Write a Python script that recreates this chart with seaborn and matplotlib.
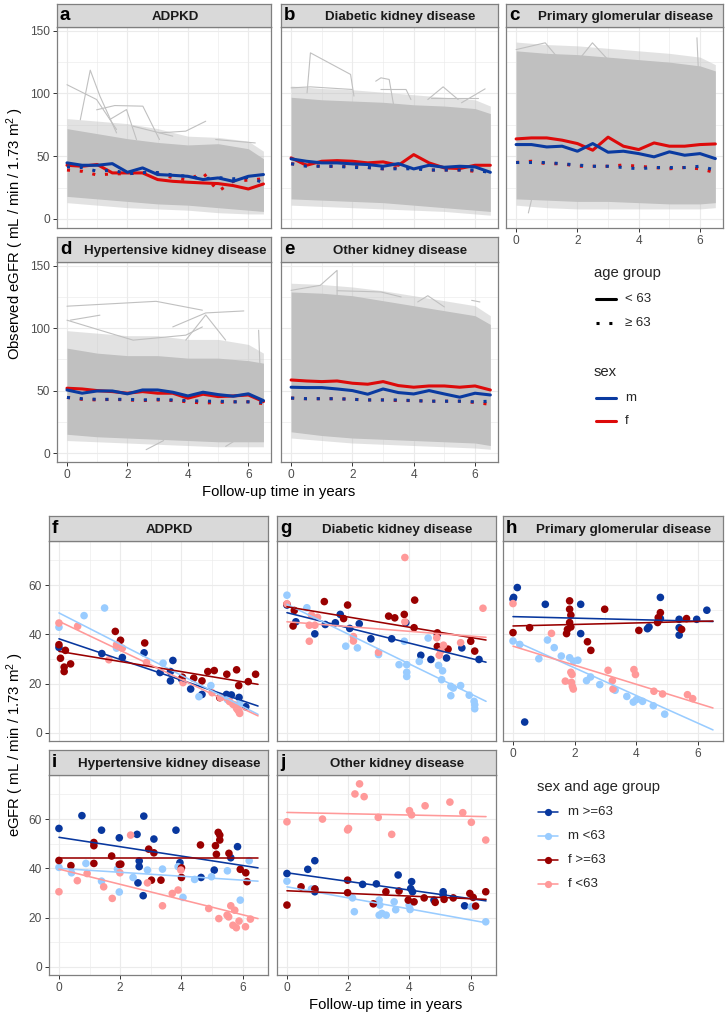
import numpy as np
import pandas as pd
import matplotlib
matplotlib.use("Agg")
import matplotlib.pyplot as plt
import seaborn as sns
from matplotlib.lines import Line2D

sns.set_theme(style="white")
plt.rcParams['font.family'] = ['Liberation Sans', 'DejaVu Sans']
plt.rcParams['mathtext.fontset'] = 'custom'
plt.rcParams['mathtext.rm'] = 'Liberation Sans'
plt.rcParams['mathtext.it'] = 'Liberation Sans:italic'
plt.rcParams['mathtext.bf'] = 'Liberation Sans:bold'

# ------------------------------------------------------------------ data
time_bins = [0.0, 0.5, 1.0, 1.5, 2.0, 2.5, 3.0, 3.5, 4.0, 4.5, 5.0, 5.5, 6.0, 6.5]
diseases = ["ADPKD", "Diabetic kidney disease", "Primary glomerular disease",
            "Hypertensive kidney disease", "Other kidney disease"]
letters_top = ["a", "b", "c", "d", "e"]
letters_bottom = ["f", "g", "h", "i", "j"]

# mean observed eGFR per half-year bin (top panels)
adpkd_m_lt63 = [44.7, 42.8, 42.8, 44.1, 37.2, 40.7, 35.4, 34.8, 34.0, 31.4, 32.7, 30.0, 34.0, 35.4]
adpkd_f_lt63 = [42.8, 42.0, 43.4, 36.7, 36.7, 36.7, 31.4, 30.0, 29.3, 28.7, 28.2, 26.6, 23.9, 27.9]
adpkd_m_ge63 = [41.5, 41.0, 38.0, 39.0, 36.0, 37.0, 37.0, 35.0, 34.0, 32.0, 33.0, 32.0, 33.0, 29.0]
adpkd_f_ge63 = [39.0, 38.0, 35.0, 36.0, 36.0, 37.0, 36.0, 33.0, 31.0, 37.0, 22.0, 30.0, 31.0, 32.0]

dkd_m_lt63 = [47.9, 46.0, 44.7, 44.7, 43.9, 43.4, 42.0, 44.1, 39.9, 42.8, 41.2, 42.0, 41.5, 37.2]
dkd_f_lt63 = [48.7, 42.8, 46.0, 46.5, 46.0, 44.7, 45.5, 42.8, 51.3, 44.7, 40.7, 40.2, 42.8, 42.8]
dkd_m_ge63 = [44.0, 42.0, 42.0, 42.0, 41.0, 41.0, 40.0, 40.0, 40.0, 39.0, 39.0, 39.0, 39.0, 37.0]
dkd_f_ge63 = [44.0, 43.0, 42.0, 42.0, 42.0, 41.0, 40.0, 41.0, 41.0, 39.0, 39.0, 39.0, 38.0, 38.0]

pgd_m_lt63 = [59.3, 59.3, 57.4, 58.0, 54.0, 60.1, 53.2, 54.0, 52.1, 49.5, 53.5, 50.8, 52.1, 48.1]
pgd_f_lt63 = [63.8, 64.6, 64.6, 62.8, 60.1, 54.8, 65.2, 58.0, 55.3, 60.6, 58.0, 58.0, 59.3, 59.8]
pgd_m_ge63 = [45.0, 45.0, 45.0, 44.0, 43.0, 42.0, 42.0, 41.0, 40.0, 41.0, 41.0, 41.0, 42.0, 39.0]
pgd_f_ge63 = [45.0, 46.0, 44.0, 44.0, 42.0, 42.0, 42.0, 43.0, 42.0, 41.0, 40.0, 41.0, 40.0, 37.0]

hkd_m_lt63 = [50.5, 47.9, 49.7, 49.7, 47.4, 50.5, 50.5, 48.7, 45.7, 48.7, 46.8, 45.5, 47.4, 42.0]
hkd_f_lt63 = [51.9, 51.3, 50.0, 49.2, 47.9, 49.2, 47.9, 47.9, 43.9, 47.1, 45.2, 45.7, 46.5, 41.2]
hkd_m_ge63 = [44.5, 43.5, 43.0, 43.0, 43.0, 42.5, 43.0, 42.5, 42.0, 41.5, 41.5, 41.0, 41.0, 40.5]
hkd_f_ge63 = [44.5, 43.0, 42.5, 43.0, 42.5, 42.0, 42.5, 42.0, 41.0, 40.0, 40.5, 41.0, 41.0, 39.5]

okd_m_lt63 = [52.7, 52.4, 52.4, 51.3, 50.0, 47.1, 51.3, 48.4, 47.3, 50.0, 47.3, 44.7, 47.9, 46.5]
okd_f_lt63 = [58.5, 57.7, 57.2, 57.7, 55.9, 55.1, 57.2, 54.0, 52.7, 53.7, 53.7, 52.7, 53.7, 50.5]
okd_m_ge63 = [44.0, 43.5, 43.5, 43.5, 43.0, 42.5, 42.5, 42.5, 42.0, 41.5, 41.5, 41.5, 41.0, 41.5]
okd_f_ge63 = [44.0, 43.5, 43.5, 43.5, 43.0, 42.5, 42.5, 42.0, 42.0, 41.5, 41.5, 41.5, 40.5, 39.0]

# envelope of the individual trajectories: dense core and sparser fringe
band_x = [0, 1, 2, 3, 4, 5, 6, 6.5]
adpkd_band_hi = [72, 68, 64, 61, 59, 60, 56, 48]
adpkd_band_lo = [18, 16, 14, 12, 11, 9, 7, 6]
adpkd_fringe_hi = [80, 78, 76, 72, 66, 65, 62, 54]
adpkd_fringe_lo = [13, 11, 9, 8, 7, 5, 4, 4]
dkd_band_hi = [97, 95, 94, 93, 91, 90, 88, 84]
dkd_band_lo = [16, 15, 14, 13, 11, 9, 7, 6]
dkd_fringe_hi = [106, 104, 103, 101, 99, 97, 95, 90]
dkd_fringe_lo = [11, 10, 9, 8, 7, 6, 4, 3]
pgd_band_hi = [134, 132, 131, 129, 127, 125, 122, 118]
pgd_band_lo = [16, 15, 14, 14, 13, 12, 12, 13]
pgd_fringe_hi = [141, 139, 138, 136, 134, 132, 129, 123]
pgd_fringe_lo = [11, 9, 8, 8, 8, 8, 8, 9]
hkd_band_hi = [84, 80, 78, 78, 76, 76, 74, 72]
hkd_band_lo = [15, 13, 12, 11, 10, 9, 9, 9]
hkd_fringe_hi = [98, 96, 94, 94, 91, 91, 87, 80]
hkd_fringe_lo = [10, 9, 8, 7, 6, 5, 5, 5]
okd_band_hi = [129, 128, 126, 122, 118, 114, 110, 103]
okd_band_lo = [17, 14, 12, 11, 10, 9, 8, 6]
okd_fringe_hi = [136, 135, 133, 130, 126, 122, 118, 110]
okd_fringe_lo = [12, 10, 8, 7, 6, 5, 4, 3]

# individual trajectories sticking out of the dense area
adpkd_outliers = [
    [(0, 107), (0.98, 95.2), (1.64, 71.3)],
    [(0.44, 79), (0.77, 118.6), (1.09, 97.9), (1.64, 68.6)],
    [(0.98, 87), (1.58, 90.4), (2.51, 89.9), (3.06, 63.3)],
    [(1.42, 79.3), (1.97, 87.2), (2.3, 63.3)],
    [(3.06, 68.6), (3.93, 70), (4.59, 77.9)],
    [(2.19, 73.9), (3.5, 66)],
    [(4.92, 63.3), (6.23, 60.6)],
]
dkd_outliers = [
    [(0, 104.5), (0.63, 105.3), (2.0, 103.2)],
    [(0.52, 100.5), (0.63, 132.4), (1.94, 115.2), (2.05, 97.9)],
    [(2.76, 109.8), (2.93, 112.5), (3.2, 111.2), (3.37, 87)],
    [(2.93, 103.2), (3.75, 103.2), (3.91, 95.2)],
    [(4.46, 95.2), (4.96, 105.3), (5.45, 95.2)],
    [(5.56, 92.6), (6.33, 103.7)],
    [(4.57, 96.5), (6.1, 96.5)],
]
pgd_outliers = [
    [(0, 135), (0.95, 140.4), (1.5, 124.5)],
    [(2.05, 127), (2.49, 140.4), (3.04, 125.8)],
    [(5.9, 144.4), (5.95, 116.5)],
    [(0.4, 4.8), (0.5, 15)],
]
hkd_outliers = [
    [(0, 117.6), (2.95, 121.5), (4.48, 114.4)],
    [(0.11, 106.4), (1.09, 110.4)],
    [(0, 106.4), (1.09, 98.4), (2.19, 90.4), (3.93, 94.4), (4.48, 101)],
    [(3.5, 101), (4.59, 112.2), (5.85, 113.8)],
    [(3.93, 90.4), (4.59, 110.6), (5.25, 90.4)],
    [(6.34, 98.4), (6.45, 26.6)],
    [(2.62, 2.7), (3.2, 10)],
    [(5.25, 5.3), (5.7, 12)],
]
okd_outliers = [
    [(0, 130.3), (0.95, 134.3), (1.5, 146.3), (1.5, 125)],
    [(1.5, 130), (2.93, 129), (3.59, 125)],
    [(5.89, 122.3), (6.16, 121)],
    [(4.13, 121), (4.46, 126), (5.0, 117)],
]

# bottom panels: example patients, (years, eGFR) per group
groups = ["m >=63", "m <63", "f >=63", "f <63"]

adpkd_pts_m_ge63 = [(0, 34.7), (1.40, 32.2), (2.07, 30.6), (2.78, 32.5), (3.30, 24.5), (3.64, 24.9),
                    (3.64, 21.1), (3.72, 29.4), (4.0, 21.9), (4.3, 17.8), (4.67, 15.6), (5.47, 15.6),
                    (5.63, 15.4), (5.88, 14.4), (6.1, 10.6)]
adpkd_pts_m_lt63 = [(0, 42.9), (0.82, 47.6), (1.49, 50.7), (1.88, 34.4), (3.40, 28.3), (4.57, 14.7),
                    (4.96, 19.2), (5.5, 13.5), (5.9, 12.0)]
adpkd_pts_f_ge63 = [(0, 35.8), (0.05, 30.3), (0.21, 33.5), (0.17, 26.7), (0.17, 24.9), (0.38, 28.0),
                    (1.84, 41.2), (2.01, 37.6), (2.8, 36.5), (4.03, 22.6), (4.4, 22.2), (4.67, 21.1),
                    (4.86, 24.9), (5.07, 25.3), (5.48, 23.8), (5.8, 25.6), (5.87, 19.2), (5.25, 14.3),
                    (6.18, 20.8), (6.42, 23.8)]
adpkd_pts_f_lt63 = [(0, 44.6), (0.61, 43.3), (1.63, 29.7), (1.88, 35.8), (2.07, 34.4), (2.86, 28.6),
                    (4.05, 20.4), (5.0, 16.3), (5.27, 14.3), (5.68, 11.6), (5.8, 9.9), (5.88, 8.6),
                    (5.9, 7.9), (5.73, 11.3), (5.57, 12.7), (5.84, 9.3)]

dkd_pts_m_ge63 = [(0, 51.9), (0.29, 45.1), (0.91, 40.2), (1.25, 44.0), (1.58, 44.7), (1.74, 48.1),
                  (2.05, 42.4), (2.36, 44.3), (2.74, 38.2), (3.42, 38.2), (3.88, 44.7), (4.37, 31.5),
                  (4.70, 29.8), (4.91, 40.0), (5.21, 30.4), (5.71, 34.5), (6.27, 29.8)]
dkd_pts_m_lt63 = [(0, 55.9), (0.65, 50.8), (1.92, 35.2), (2.30, 34.5), (2.99, 31.8), (3.83, 37.2),
                  (3.66, 27.7), (3.91, 27.7), (3.91, 24.6), (3.91, 22.9), (4.32, 29.0), (4.61, 38.5),
                  (4.95, 27.4), (5.08, 25.2), (5.05, 21.6), (5.35, 18.9), (5.43, 18.2), (5.35, 15.1),
                  (5.67, 19.2), (5.95, 15.3), (6.11, 12.8), (6.13, 11.4), (6.13, 9.8)]
dkd_pts_f_ge63 = [(0, 52.2), (0.24, 49.7), (0.2, 43.4), (1.22, 53.3), (1.85, 46.4), (1.98, 51.9),
                  (3.32, 47.4), (3.52, 46.7), (3.83, 48.1), (4.17, 53.9), (4.15, 42.7), (4.91, 40.6),
                  (4.91, 35.1), (5.26, 34.0), (6.0, 37.2), (6.13, 33.2)]
dkd_pts_f_lt63 = [(0, 52.4), (0.73, 37.2), (0.73, 43.7), (0.8, 47.8), (0.91, 43.7), (1.0, 46.9),
                  (2.17, 39.1), (2.17, 37.3), (2.99, 32.7), (3.85, 71.2), (3.85, 45.1), (4.89, 38.6),
                  (4.97, 31.5), (5.11, 35.6), (5.02, 33.2), (5.67, 36.6), (6.40, 50.6)]

pgd_pts_m_ge63 = [(0, 54.3), (0.02, 55.0), (0.14, 59.0), (0.38, 4.4), (1.05, 52.2), (2.2, 52.2),
                  (2.2, 40.3), (4.37, 42.3), (4.42, 43.0), (4.79, 55.0), (4.79, 46.4), (5.40, 46.1),
                  (5.40, 42.7), (5.40, 39.7), (5.97, 46.1), (6.30, 49.8)]
pgd_pts_m_lt63 = [(0, 37.3), (0.22, 35.9), (0.84, 30.1), (1.12, 37.7), (1.34, 34.6), (1.57, 31.2),
                  (1.84, 30.5), (1.97, 29.1), (2.11, 29.5), (2.39, 21.2), (2.52, 22.7), (2.82, 19.6),
                  (3.32, 17.3), (3.7, 14.8), (3.91, 12.5), (4.01, 13.5), (4.21, 12.8), (4.56, 11.0),
                  (4.93, 7.6)]
pgd_pts_f_ge63 = [(0, 40.7), (0.54, 42.7), (1.74, 40.3), (1.77, 42.0), (1.84, 53.6), (1.84, 50.2),
                  (1.88, 47.8), (1.84, 44.8), (1.88, 43.0), (2.42, 37.0), (2.53, 33.5), (2.98, 50.2),
                  (4.09, 41.6), (4.70, 44.8), (4.72, 46.8), (4.79, 48.8), (5.48, 42.0), (5.64, 46.4)]
pgd_pts_f_lt63 = [(0, 52.5), (1.25, 40.4), (1.70, 21.0), (1.88, 24.6), (1.92, 23.7), (1.9, 20.5),
                  (1.93, 18.9), (1.96, 17.8), (3.09, 25.4), (3.23, 21.2), (3.25, 17.8), (3.93, 25.7),
                  (3.98, 23.7), (4.58, 16.9), (4.86, 15.8), (5.67, 15.5), (5.84, 13.9)]

hkd_pts_m_ge63 = [(0, 56.2), (0.75, 61.4), (1.39, 55.5), (1.97, 52.4), (2.55, 53.8), (2.58, 34.1),
                  (2.62, 40.7), (2.62, 43.0), (2.75, 28.9), (2.77, 61.2), (3.1, 51.9), (3.82, 55.5),
                  (3.95, 42.3), (4.64, 36.3), (5.07, 39.3), (5.61, 44.3), (5.83, 48.8)]
hkd_pts_m_lt63 = [(0, 40.4), (0.41, 38.2), (0.88, 42.0), (1.39, 34.8), (1.91, 39.7), (1.97, 30.4),
                  (2.42, 36.3), (2.89, 39.3), (3.38, 39.7), (3.89, 40.7), (4.05, 28.2), (4.43, 35.5),
                  (4.98, 36.6), (5.5, 39.0), (5.92, 27.1), (6.21, 43.1)]
hkd_pts_f_ge63 = [(0, 43.2), (0.39, 41.1), (1.14, 50.5), (1.14, 49.2), (1.14, 42.0), (1.72, 45.0),
                  (1.97, 41.6), (2.02, 41.7), (2.93, 47.8), (3.02, 35.2), (3.1, 46.3), (3.33, 35.2),
                  (4.0, 40.2), (4.0, 36.3), (4.62, 49.5), (5.11, 49.2), (5.14, 45.7), (5.2, 54.6),
                  (5.25, 51.5), (5.25, 53.5), (5.55, 46.1), (5.92, 39.6), (6.1, 38.2), (6.14, 34.6)]
hkd_pts_f_lt63 = [(0, 30.5), (0.6, 35.0), (0.92, 37.9), (1.46, 32.5), (1.74, 27.8), (1.99, 38.2),
                  (2.34, 53.5), (2.89, 34.1), (3.38, 24.8), (3.7, 29.8), (3.89, 31.2), (3.98, 39.3),
                  (4.89, 23.7), (5.22, 19.6), (5.49, 21.0), (5.54, 20.3), (5.61, 24.8), (5.68, 16.9),
                  (5.74, 23.0), (5.79, 15.9), (5.88, 18.6), (6.09, 16.3), (6.25, 19.4)]

okd_pts_m_ge63 = [(0, 37.9), (0.68, 39.6), (0.91, 43.1), (0.91, 30.5), (0.91, 31.6), (2.47, 33.5),
                  (2.92, 33.7), (3.63, 37.3), (4.04, 31.8), (4.07, 34.6), (4.10, 30.5), (4.8, 27.1),
                  (5.1, 30.5), (5.1, 29.1), (5.8, 24.8)]
okd_pts_m_lt63 = [(0, 34.8), (0.8, 31.6), (2.14, 28.0), (2.2, 22.4), (3.01, 27.1), (3.03, 25.1),
                  (3.01, 21.0), (3.1, 21.7), (3.24, 21.0), (3.5, 26.4), (3.55, 23.2), (3.99, 25.1),
                  (4.02, 23.3), (6.02, 24.4), (6.49, 18.3)]
okd_pts_f_ge63 = [(0, 25.1), (0.46, 32.5), (0.91, 31.6), (1.98, 35.2), (1.98, 30.1), (2.82, 25.6),
                  (3.23, 30.5), (3.66, 30.8), (3.96, 27.1), (4.15, 26.4), (4.48, 28.0), (4.84, 26.2),
                  (5.13, 27.4), (5.43, 28.0), (5.97, 29.8), (6.08, 28.2), (6.16, 24.7), (6.49, 30.5)]
okd_pts_f_lt63 = [(0, 58.9), (1.16, 60.0), (1.98, 55.6), (2.01, 56.2), (2.22, 70.2), (2.37, 74.3),
                  (2.52, 69.1), (2.98, 60.7), (3.42, 53.8), (4.0, 63.4), (4.07, 61.7), (4.51, 65.4),
                  (5.32, 66.9), (5.74, 62.6), (6.02, 58.7), (6.49, 51.5)]

# fitted trajectories: eGFR at year 0 and year 6.5 (order = groups)
fit_years = [0.0, 6.5]
adpkd_fit_start = [38.2, 48.7, 33.1, 45.3]
adpkd_fit_end = [10.9, 7.5, 19.7, 6.9]
dkd_fit_start = [48.8, 52.2, 51.2, 45.1]
dkd_fit_end = [28.7, 12.8, 37.7, 38.8]
pgd_fit_start = [47.2, 37.6, 43.4, 35.2]
pgd_fit_end = [45.2, 1.2, 45.4, 10.1]
hkd_fit_start = [52.6, 40.0, 44.0, 39.7]
hkd_fit_end = [40.2, 34.8, 44.0, 19.6]
okd_fit_start = [38.2, 32.5, 30.9, 62.7]
okd_fit_end = [26.8, 17.9, 27.4, 61.0]

# ------------------------------------------------------------------ style
GRAY = "#C0C0C0"
RED = "#DD0A0A"
BLUE = "#0A3AA0"
PAL = {"m >=63": "#08379E", "m <63": "#99CCFF", "f >=63": "#990000", "f <63": "#FF9999"}
BORDER = "#7F7F7F"
GRID = "#EBEBEB"
TICKLAB = "#4D4D4D"

W, H = 726, 1016
fig = plt.figure(figsize=(W / 100, H / 100), dpi=100)


def box(l, t, r, b):
    return [l / W, 1 - b / H, (r - l) / W, (b - t) / H]


def fx(x):
    return x / W


def fy(y):
    return 1 - y / H


def make_strip(l, t, r, b, letter, title):
    sax = fig.add_axes(box(l, t, r, b))
    sax.set_facecolor("#D9D9D9")
    sax.set_xticks([])
    sax.set_yticks([])
    for sp in sax.spines.values():
        sp.set_color(BORDER)
        sp.set_linewidth(0.9)
    cy = (t + b) / 2
    fig.text(fx(l + 3), fy(cy), letter, fontsize=13.5, fontweight="bold",
             color="black", ha="left", va="center")
    fig.text(fx((l + r) / 2 + 11), fy(cy + 1.5), title, fontsize=9.6, fontweight="bold",
             color="#1A1A1A", ha="center", va="center")


def style_panel(ax, xlim, ylim, yticks, yminor, show_x, show_y):
    ax.set_xlim(*xlim)
    ax.set_ylim(*ylim)
    ax.set_xticks([0, 2, 4, 6])
    ax.set_xticks([1, 3, 5], minor=True)
    ax.set_yticks(yticks)
    ax.set_yticks(yminor, minor=True)
    ax.set_facecolor("white")
    ax.grid(which="major", color=GRID, lw=0.85)
    ax.grid(which="minor", color=GRID, lw=0.45)
    ax.set_axisbelow(True)
    for sp in ax.spines.values():
        sp.set_color(BORDER)
        sp.set_linewidth(0.9)
        sp.set_zorder(10)
    ax.tick_params(which="major", length=3, width=0.7, color="#333333",
                   labelsize=8.6, labelcolor=TICKLAB, pad=2,
                   bottom=show_x, labelbottom=show_x, left=show_y, labelleft=show_y)
    ax.tick_params(which="minor", length=0)
    ax.set_xlabel("")
    ax.set_ylabel("")


def draw_top(ax, band_lo, band_hi, fringe_lo, fringe_hi, outliers, m_lt, f_lt, m_ge, f_ge):
    ax.fill_between(band_x, fringe_lo, fringe_hi, color=GRAY, alpha=0.45, lw=0, zorder=1)
    ax.fill_between(band_x, band_lo, band_hi, color=GRAY, lw=0, zorder=1)
    for tr in outliers:
        xs, ys = zip(*tr)
        ax.plot(xs, ys, color=GRAY, lw=0.8, zorder=1)
    n = len(time_bins)
    df = pd.DataFrame({
        "time": time_bins * 4,
        "egfr": f_lt + f_ge + m_lt + m_ge,
        "sex": ["f"] * (2 * n) + ["m"] * (2 * n),
        "age": (["< 63"] * n + ["\u2265 63"] * n) * 2,
    })
    sns.lineplot(data=df, x="time", y="egfr", hue="sex", style="age",
                 hue_order=["f", "m"], style_order=["< 63", "\u2265 63"],
                 palette={"f": RED, "m": BLUE},
                 dashes={"< 63": "", "\u2265 63": (1, 3.2)},
                 lw=2.2, estimator=None, sort=False, legend=False, ax=ax, zorder=3)


def draw_bottom(ax, pts_lists, fit_start, fit_end):
    rows = []
    for g, pts in zip(groups, pts_lists):
        for x, y in pts:
            rows.append((x, y, g))
    df = pd.DataFrame(rows, columns=["time", "egfr", "grp"])
    sns.scatterplot(data=df, x="time", y="egfr", hue="grp", palette=PAL,
                    hue_order=groups, s=30, linewidth=0, legend=False, ax=ax, zorder=2)
    fit = pd.DataFrame({
        "time": fit_years * 4,
        "egfr": [v for pair in zip(fit_start, fit_end) for v in pair],
        "grp": [g for g in groups for _ in fit_years],
    })
    sns.lineplot(data=fit, x="time", y="egfr", hue="grp", palette=PAL,
                 hue_order=groups, lw=1.15, estimator=None, legend=False, ax=ax, zorder=3)


# ------------------------------------------------------------------ top block
top_cols = [(57, 271), (281, 498), (506, 723)]
top_rows = [((4, 27), (27, 228)), ((237, 262), (262, 462))]
top_data = [
    (adpkd_band_lo, adpkd_band_hi, adpkd_fringe_lo, adpkd_fringe_hi, adpkd_outliers,
     adpkd_m_lt63, adpkd_f_lt63, adpkd_m_ge63, adpkd_f_ge63),
    (dkd_band_lo, dkd_band_hi, dkd_fringe_lo, dkd_fringe_hi, dkd_outliers,
     dkd_m_lt63, dkd_f_lt63, dkd_m_ge63, dkd_f_ge63),
    (pgd_band_lo, pgd_band_hi, pgd_fringe_lo, pgd_fringe_hi, pgd_outliers,
     pgd_m_lt63, pgd_f_lt63, pgd_m_ge63, pgd_f_ge63),
    (hkd_band_lo, hkd_band_hi, hkd_fringe_lo, hkd_fringe_hi, hkd_outliers,
     hkd_m_lt63, hkd_f_lt63, hkd_m_ge63, hkd_f_ge63),
    (okd_band_lo, okd_band_hi, okd_fringe_lo, okd_fringe_hi, okd_outliers,
     okd_m_lt63, okd_f_lt63, okd_m_ge63, okd_f_ge63),
]
for i in range(5):
    r, c = divmod(i, 3)
    (st, sb), (pt, pb) = top_rows[r]
    l, rr = top_cols[c]
    ax = fig.add_axes(box(l, pt, rr, pb))
    draw_top(ax, *top_data[i])
    show_x = (r == 1) or (c == 2)
    style_panel(ax, (-0.33, 6.75), (-7.2, 153), [0, 50, 100, 150], [25, 75, 125],
                show_x, c == 0)
    make_strip(l, st, rr, sb, letters_top[i], diseases[i])

fig.text(fx(15), fy(233), r"Observed eGFR ( mL / min / 1.73 m$^2$ )", rotation=90,
         ha="center", va="center", fontsize=10.7, color="black")
fig.text(fx(279), fy(492), "Follow-up time in years", ha="center", va="center",
         fontsize=10.7, color="black")

# top legends
fig.text(fx(594), fy(273), "age group", fontsize=10.7, ha="left", va="center")
fig.add_artist(Line2D([fx(596), fx(616)], [fy(299), fy(299)], color="black", lw=2.2))
fig.add_artist(Line2D([fx(596), fx(616)], [fy(323), fy(323)], color="black", lw=2.2,
                      linestyle=(0, (1, 3.2)), dash_capstyle="butt"))
fig.text(fx(625), fy(299), "< 63", fontsize=9.5, ha="left", va="center")
fig.text(fx(625), fy(323), "\u2265 63", fontsize=9.5, ha="left", va="center")
fig.text(fx(594), fy(372), "sex", fontsize=10.7, ha="left", va="center")
fig.add_artist(Line2D([fx(596), fx(616)], [fy(398), fy(398)], color=BLUE, lw=2.2))
fig.add_artist(Line2D([fx(596), fx(616)], [fy(421), fy(421)], color=RED, lw=2.2))
fig.text(fx(625), fy(398), "m", fontsize=9.5, ha="left", va="center")
fig.text(fx(625), fy(421), "f", fontsize=9.5, ha="left", va="center")

# ------------------------------------------------------------------ bottom block
bot_cols = [(49, 268), (277, 496), (503, 723)]
bot_rows = [((516, 541), (541, 741)), ((750, 775), (775, 975))]
bot_data = [
    ([adpkd_pts_m_ge63, adpkd_pts_m_lt63, adpkd_pts_f_ge63, adpkd_pts_f_lt63], adpkd_fit_start, adpkd_fit_end),
    ([dkd_pts_m_ge63, dkd_pts_m_lt63, dkd_pts_f_ge63, dkd_pts_f_lt63], dkd_fit_start, dkd_fit_end),
    ([pgd_pts_m_ge63, pgd_pts_m_lt63, pgd_pts_f_ge63, pgd_pts_f_lt63], pgd_fit_start, pgd_fit_end),
    ([hkd_pts_m_ge63, hkd_pts_m_lt63, hkd_pts_f_ge63, hkd_pts_f_lt63], hkd_fit_start, hkd_fit_end),
    ([okd_pts_m_ge63, okd_pts_m_lt63, okd_pts_f_ge63, okd_pts_f_lt63], okd_fit_start, okd_fit_end),
]
for i in range(5):
    r, c = divmod(i, 3)
    (st, sb), (pt, pb) = bot_rows[r]
    l, rr = bot_cols[c]
    ax = fig.add_axes(box(l, pt, rr, pb))
    draw_bottom(ax, *bot_data[i])
    show_x = (r == 1) or (c == 2)
    style_panel(ax, (-0.325, 6.825), (-3.3, 77.9), [0, 20, 40, 60], [10, 30, 50, 70],
                show_x, c == 0)
    make_strip(l, st, rr, sb, letters_bottom[i], diseases[i])

fig.text(fx(15), fy(745), r"eGFR ( mL / min / 1.73 m$^2$ )", rotation=90,
         ha="center", va="center", fontsize=10.7, color="black")
fig.text(fx(386), fy(1005), "Follow-up time in years", ha="center", va="center",
         fontsize=10.7, color="black")

# bottom legend
fig.text(fx(537), fy(787), "sex and age group", fontsize=10.7, ha="left", va="center")
for k, g in enumerate(groups):
    yy = 812 + 24 * k
    fig.add_artist(Line2D([fx(538), fx(558)], [fy(yy), fy(yy)], color=PAL[g], lw=1.15))
    fig.add_artist(Line2D([fx(548)], [fy(yy)], color=PAL[g], marker="o", markersize=5.2,
                          markeredgewidth=0, linestyle="none"))
    fig.text(fx(568), fy(yy), g, fontsize=9.5, ha="left", va="center")

fig.savefig("out.png", dpi=100)
